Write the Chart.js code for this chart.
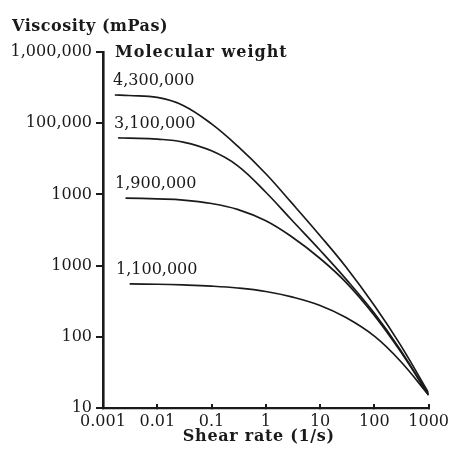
<!DOCTYPE html>
<html>
<head>
<meta charset="utf-8">
<script src="https://cdn.jsdelivr.net/npm/chart.js@4/dist/chart.umd.min.js"></script>
<style>
  html, body { margin: 0; padding: 0; background: #fff; }
  canvas { display: block; }
</style>
</head>
<body>
<canvas id="chart" width="457" height="459"></canvas>
<script>
// shear rate (1/s) and viscosity (mPas), one pair of arrays per molecular weight
const rate4300k = [0.00165, 0.003, 0.01, 0.03, 0.1, 0.3, 1, 3, 10, 30, 100, 300, 1000];
const visc4300k = [248900, 244900, 230100, 177800, 97700, 47900, 19500, 7590, 2630, 955, 275, 77.6, 16.3];

const rate3100k = [0.0019, 0.003, 0.01, 0.03, 0.1, 0.3, 1, 3, 10, 30, 100, 300, 1000];
const visc3100k = [62090, 61660, 59700, 54330, 40930, 25410, 10720, 4365, 1641, 646, 214, 66, 15.2];

const rate1900k = [0.0026, 0.01, 0.03, 0.1, 0.3, 1, 3, 10, 30, 100, 300, 1000];
const visc1900k = [8890, 8630, 8318, 7447, 6166, 4266, 2541, 1259, 582, 200, 63, 15.2];

const rate1100k = [0.0031, 0.01, 0.03, 0.1, 0.3, 1, 3, 10, 30, 100, 300, 1000];
const visc1100k = [552, 547, 535, 515, 485, 433, 363, 275, 186, 102, 45.7, 15.2];

const curveLabels = ['4,300,000', '3,100,000', '1,900,000', '1,100,000'];

const xTickValues = [0.001, 0.01, 0.1, 1, 10, 100, 1000];
const xTickLabels = ['0.001', '0.01', '0.1', '1', '10', '100', '1000'];
// the original figure prints "1000" twice on the y axis
const yTickValues = [10, 100, 1000, 10000, 100000, 1000000];
const yTickLabels = ['10', '100', '1000', '1000', '100,000', '1,000,000'];

const INK = '#1a1a1a';
const SERIF = '"DejaVu Serif", "Liberation Serif", serif';

function toPoints(xs, ys) {
  return xs.map((x, i) => ({ x: x, y: ys[i] }));
}

function curve(xs, ys) {
  return {
    data: toPoints(xs, ys),
    borderColor: INK,
    borderWidth: 1.7,
    pointRadius: 0,
    fill: false,
    tension: 0.4
  };
}

// headings and curve labels, drawn with a little letter spacing like the print
const textPlugin = {
  id: 'figureText',
  afterDraw(chart) {
    const ctx = chart.ctx;
    const area = chart.chartArea;
    ctx.save();
    ctx.fillStyle = INK;
    ctx.textBaseline = 'middle';
    ctx.textAlign = 'left';

    ctx.font = 'bold 16px ' + SERIF;
    ctx.letterSpacing = '0.5px';
    ctx.fillText('Viscosity (mPas)', 12, 27);
    ctx.letterSpacing = '1px';
    ctx.fillText('Molecular weight', area.left + 12, area.top + 1);
    ctx.letterSpacing = '0.7px';
    ctx.textAlign = 'center';
    ctx.fillText('Shear rate (1/s)', (area.left + area.right) / 2 - 7, 437);

    ctx.letterSpacing = '0px';
    ctx.textAlign = 'left';
    ctx.font = '16px ' + SERIF;
    chart.data.datasets.forEach((ds, i) => {
      const first = chart.getDatasetMeta(i).data[0];
      ctx.fillText(curveLabels[i], area.left + 10 + i, first.y - 14);
    });
    ctx.restore();
  }
};

new Chart(document.getElementById('chart'), {
  type: 'line',
  data: {
    datasets: [
      curve(rate4300k, visc4300k),
      curve(rate3100k, visc3100k),
      curve(rate1900k, visc1900k),
      curve(rate1100k, visc1100k)
    ]
  },
  options: {
    responsive: false,
    animation: false,
    devicePixelRatio: 1,
    layout: { padding: { top: 52, right: 24, bottom: 0, left: 0 } },
    plugins: {
      legend: { display: false },
      tooltip: { enabled: false }
    },
    scales: {
      x: {
        type: 'logarithmic',
        min: 0.001,
        max: 1000,
        afterBuildTicks: (scale) => { scale.ticks = xTickValues.map(v => ({ value: v })); },
        afterFit: (scale) => { scale.height = 51; },
        ticks: {
          autoSkip: false,
          maxRotation: 0,
          padding: 8,
          color: INK,
          font: { family: SERIF, size: 16 },
          callback: (value, index) => xTickLabels[index]
        },
        grid: { drawOnChartArea: false, tickLength: -4, color: INK, lineWidth: 2 },
        border: { display: true, color: INK, width: 2.2 }
      },
      y: {
        type: 'logarithmic',
        min: 10,
        max: 1000000,
        afterBuildTicks: (scale) => { scale.ticks = yTickValues.map(v => ({ value: v })); },
        afterFit: (scale) => { scale.width = 103; },
        ticks: {
          autoSkip: false,
          padding: 4,
          color: INK,
          font: { family: SERIF, size: 16 },
          callback: (value, index) => yTickLabels[index]
        },
        grid: { drawOnChartArea: false, tickLength: 7, color: INK, lineWidth: 2 },
        border: { display: true, color: INK, width: 2.6 }
      }
    }
  },
  plugins: [textPlugin]
});
</script>
</body>
</html>
